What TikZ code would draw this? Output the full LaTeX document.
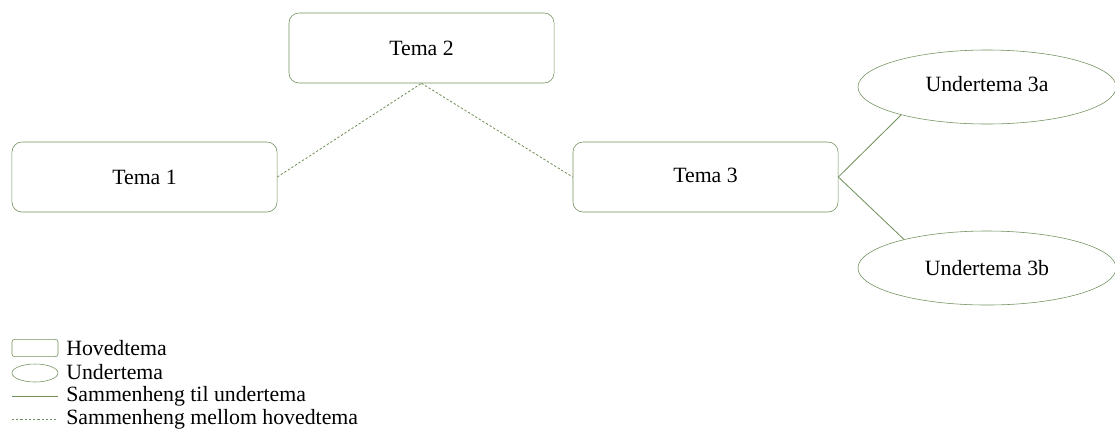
\documentclass[tikz,border=0pt]{standalone}
\usepackage{fontspec}
\setmainfont{Liberation Serif}
\usetikzlibrary{shapes.geometric}
\definecolor{themegreen}{HTML}{71905C}
\tikzset{
  hoved/.style={draw=themegreen, rounded corners=0.25cm, minimum width=6.625cm, minimum height=1.75cm, inner sep=0pt, fill=white},
  under/.style={draw=themegreen, ellipse, minimum width=6.45cm, minimum height=1.85cm, inner sep=0pt, fill=white},
  tillink/.style={draw=themegreen, line width=0.6pt},
  mellomlink/.style={draw=themegreen, line width=0.6pt, dash pattern=on 1.6pt off 1.4pt},
  legendtext/.style={anchor=west, inner sep=0pt}
}
\begin{document}
\begin{tikzpicture}[x=0.025cm,y=-0.025cm,font=\fontsize{15.5}{18}\selectfont]
\useasboundingbox (0,0) rectangle (1115,442);
\node[hoved] (tema1) at (144.5,177) {Tema 1};
\node[hoved] (tema2) at (421.5,48) {Tema 2};
\node[hoved] (tema3) at (705.5,177) {\raisebox{3pt}{Tema 3}};
\node[under] (under3a) at (987,87) {\raisebox{5pt}{Undertema 3a}};
\node[under] (under3b) at (987,268) {Undertema 3b};

\draw[mellomlink] (tema1.east) -- (tema2.south);
\draw[mellomlink] (tema2.south) -- (tema3.west);
\draw[tillink] (tema3.east) -- (under3a.198);
\draw[tillink] (tema3.east) -- (under3b.161);

% legend
\node[draw=themegreen, rounded corners=0.06cm, minimum width=1.15cm, minimum height=0.43cm, inner sep=0pt] (leghoved) at (35,348) {};
\node[draw=themegreen, ellipse, minimum width=1.15cm, minimum height=0.45cm, inner sep=0pt] (legunder) at (35,373) {};
\coordinate (legtilA) at (12,396);
\coordinate (legtilB) at (58,396);
\coordinate (legmelA) at (12,419);
\coordinate (legmelB) at (58,419);
\draw[tillink] (legtilA) -- (legtilB);
\draw[mellomlink] (legmelA) -- (legmelB);
\node[legendtext] (txthoved) at (66,348) {Hovedtema};
\node[legendtext] (txtunder) at (66,372) {Undertema};
\node[legendtext] (txttil) at (66,396) {Sammenheng til undertema};
\node[legendtext] (txtmel) at (66,419) {Sammenheng mellom hovedtema};
\end{tikzpicture}
\end{document}
